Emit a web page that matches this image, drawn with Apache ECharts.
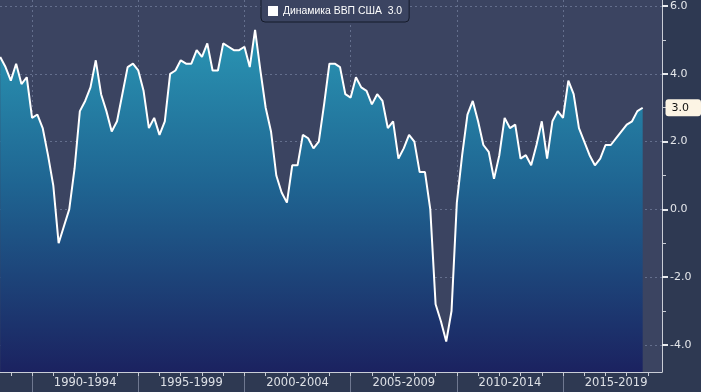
<!DOCTYPE html>
<html><head><meta charset="utf-8">
<script src="https://cdn.jsdelivr.net/npm/echarts@6/dist/echarts.min.js"></script>
<style>html,body{margin:0;padding:0;background:#2e3952}#c{width:701px;height:392px}</style>
</head><body><div id="c"></div>
<script>
const seriesName = 'Динамика ВВП США';
const firstYear = 1988, firstQuarter = 2;
// US real GDP, % y/y, quarterly from 1988 Q2 to 2018 Q3
const gdpYoY = [
  4.5, 4.2, 3.8,
  4.3, 3.7, 3.9, 2.7,
  2.8, 2.4, 1.6, 0.7,
  -1.0, -0.5, 0.0, 1.2,
  2.9, 3.2, 3.6, 4.4,
  3.4, 2.9, 2.3, 2.6,
  3.4, 4.2, 4.3, 4.1,
  3.5, 2.4, 2.7, 2.2,
  2.6, 4.0, 4.1, 4.4,
  4.3, 4.3, 4.7, 4.5,
  4.9, 4.1, 4.1, 4.9,
  4.8, 4.7, 4.7, 4.8,
  4.2, 5.3, 4.1, 3.0,
  2.3, 1.0, 0.5, 0.2,
  1.3, 1.3, 2.2, 2.1,
  1.8, 2.0, 3.1, 4.3,
  4.3, 4.2, 3.4, 3.3,
  3.9, 3.6, 3.5, 3.1,
  3.4, 3.2, 2.4, 2.6,
  1.5, 1.8, 2.2, 2.0,
  1.1, 1.1, 0.0, -2.8,
  -3.3, -3.9, -3.0, 0.2,
  1.6, 2.8, 3.2, 2.6,
  1.9, 1.7, 0.9, 1.6,
  2.7, 2.4, 2.5, 1.5,
  1.6, 1.3, 1.9, 2.6,
  1.5, 2.6, 2.9, 2.7,
  3.8, 3.4, 2.4, 2.0,
  1.6, 1.3, 1.5, 1.9,
  1.9, 2.1, 2.3, 2.5,
  2.6, 2.9, 3.0
];
const periodLabels = ['1990-1994','1995-1999','2000-2004','2005-2009','2010-2014','2015-2019'];
const yMajorTicks = [-4, -2, 0, 2, 4, 6];
const yMinorTicks = [-3, -1, 1, 3, 5];
const yearTicks = [1989,1990,1991,1992,1993,1994,1995,1996,1997,1998,1999,2000,2001,2002,2003,2004,2005,2006,2007,2008,2009,2010,2011,2012,2013,2014,2015,2016,2017,2018,2019];

// quarter-end positions in decimal years
const points = gdpYoY.map((v, i) => {
  const q = firstQuarter - 1 + i;
  const year = firstYear + Math.floor(q / 4);
  const quarter = (q % 4) + 1;
  return [year + quarter / 4, v];
});
const lastValue = gdpYoY[gdpYoY.length - 1];
const periodStarts = periodLabels.map(s => parseInt(s, 10));
const periodCentres = periodStarts.map(s => s + 2.5);

const X_MIN = 1988.49, X_MAX = 2019.66, Y_MIN = -4.80, Y_MAX = 6.18;
const FONT = 'DejaVu Sans';
const gridColor = 'rgba(150,165,195,0.45)';

const chart = echarts.init(document.getElementById('c'));
chart.setOption({
  animation: false,
  backgroundColor: '#2e3952',
  textStyle: { fontFamily: FONT },
  grid: { left: 0, right: 39, top: 0, bottom: 20, show: true, backgroundColor: '#3b4461', borderWidth: 0 },
  legend: {
    top: -6, left: 261,
    data: [seriesName],
    icon: 'rect', itemWidth: 10, itemHeight: 10, itemGap: 6,
    backgroundColor: '#3b4461', borderColor: '#151b2a', borderWidth: 1, borderRadius: 4,
    padding: [12, 7, 6, 7],
    textStyle: { color: '#ffffff', fontSize: 10.4, fontFamily: 'Liberation Sans' },
    formatter: name => name + '  ' + lastValue.toFixed(1)
  },
  xAxis: [{
    type: 'value', min: X_MIN, max: X_MAX, position: 'bottom',
    axisLine: { show: true, onZero: false, lineStyle: { color: '#c9cdd6', width: 1 } },
    axisTick: { show: true, customValues: periodStarts, length: 20, lineStyle: { color: '#6f7890' } },
    axisLabel: {
      customValues: periodCentres, color: '#dde0e6', fontSize: 11.5, margin: 5,
      formatter: v => periodLabels[periodCentres.indexOf(v)] || ''
    },
    splitLine: { show: true, lineStyle: { color: gridColor, type: [2, 3], width: 1 } }
  }, {
    type: 'value', min: X_MIN, max: X_MAX, position: 'bottom',
    axisLine: { show: false, onZero: false },
    axisTick: { show: true, customValues: yearTicks, length: 4, lineStyle: { color: '#c9cdd6' } },
    axisLabel: { show: false },
    splitLine: { show: false }
  }],
  yAxis: [{
    type: 'value', min: Y_MIN, max: Y_MAX, position: 'right',
    axisLine: { show: true, onZero: false, lineStyle: { color: '#c9cdd6', width: 1 } },
    axisTick: { show: true, customValues: yMajorTicks, length: 6, lineStyle: { color: '#e8eaee', width: 2 } },
    axisLabel: {
      customValues: yMajorTicks, color: '#e4e6ea', fontSize: 11, margin: 8,
      formatter: v => v.toFixed(1)
    },
    splitLine: { show: true, lineStyle: { color: gridColor, type: [2, 3], width: 1 } },
    axisPointer: {
      show: true, value: lastValue, status: 'show', type: 'none', triggerTooltip: false,
      label: {
        show: true, margin: 5, backgroundColor: '#fcf4e4', color: '#111111',
        fontFamily: FONT, fontSize: 11, padding: [3, 12, 3, 6],
        formatter: p => Number(p.value).toFixed(1)
      }
    }
  }, {
    type: 'value', min: Y_MIN, max: Y_MAX, position: 'right',
    axisLine: { show: false, onZero: false },
    axisTick: { show: true, customValues: yMinorTicks, length: 4, lineStyle: { color: '#c9cdd6' } },
    axisLabel: { show: false },
    splitLine: { show: false }
  }],
  series: [{
    name: seriesName,
    type: 'line',
    xAxisIndex: 0, yAxisIndex: 0,
    data: points,
    showSymbol: false,
    symbol: 'none',
    itemStyle: { color: '#ffffff' },
    lineStyle: { color: '#ffffff', width: 2 },
    areaStyle: {
      origin: 'start',
      color: new echarts.graphic.LinearGradient(0, 0, 0, 1, [
        { offset: 0, color: '#2a96b4' },
        { offset: 0.45, color: '#1f6592' },
        { offset: 1, color: '#1b2260' }
      ]),
      opacity: 1
    }
  }]
});
</script></body></html>
